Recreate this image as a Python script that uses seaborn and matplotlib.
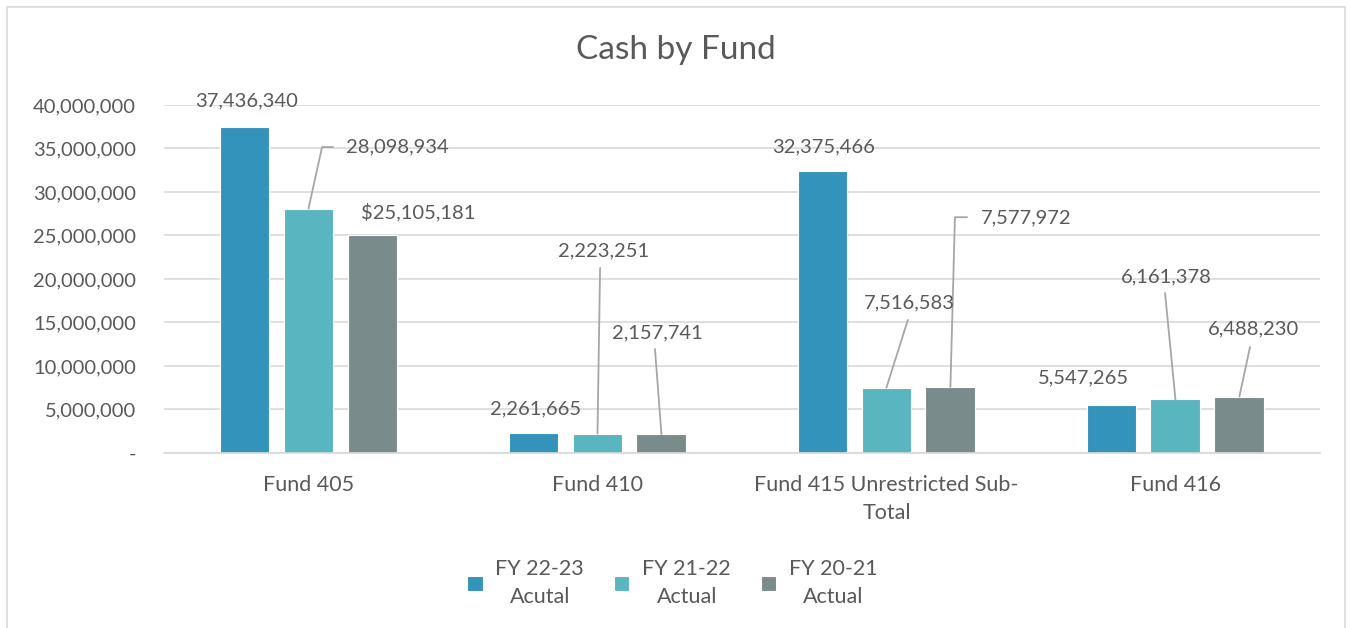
import pandas as pd
import seaborn as sns
import matplotlib.pyplot as plt
from matplotlib.patches import Rectangle
from matplotlib.ticker import FuncFormatter

funds = ["Fund 405", "Fund 410", "Fund 415 Unrestricted Sub-\nTotal", "Fund 416"]
series = ["FY 22-23\nAcutal", "FY 21-22\nActual", "FY 20-21\nActual"]
fy2223 = [37436340, 2261665, 32375466, 5547265]
fy2122 = [28098934, 2223251, 7516583, 6161378]
fy2021 = [25105181, 2157741, 7577972, 6488230]
colors = ["#3393BA", "#59B5BF", "#7A8B8C"]

rows = []
for name, vals in zip(series, [fy2223, fy2122, fy2021]):
    for f, v in zip(funds, vals):
        rows.append({"fund": f, "series": name, "value": v})
df = pd.DataFrame(rows)

# label layout: (text x, text y, ha, leader points or None), per series then fund
layout = [
    [(-0.216, 40.46e6, "center", None),
     (0.787, 5.06e6, "center", None),
     (1.784, 35.17e6, "center", None),
     (2.68, 8.6e6, "center", None)],
    [(0.13, 35.17e6, "left", [(0.047, 35.17e6), (0.085, 35.17e6)]),
     (1.022, 23.2e6, "center", [(1.009, 21.26e6)]),
     (2.078, 17.2e6, "center", [(2.074, 15.29e6)]),
     (2.97, 20.3e6, "center", [(2.964, 18.39e6)])],
    [(0.379, 27.7e6, "center", None),
     (1.206, 13.8e6, "center", [(1.199, 11.95e6)]),
     (2.327, 27.0e6, "left", [(2.237, 27.1e6), (2.279, 27.1e6)]),
     (3.27, 14.25e6, "center", [(3.258, 12.18e6)])],
]

sns.set_theme(style="white")
plt.rcParams["font.family"] = ["Lato", "DejaVu Sans"]
txt = "#595959"

fig = plt.figure(figsize=(13.51, 6.28), dpi=100)
ax = fig.add_axes([0.1214, 0.2787, 0.8556, 0.5541])
sns.barplot(data=df, x="fund", y="value", hue="series", palette=colors, saturation=1,
            width=0.664, gap=0.22, edgecolor="white", linewidth=0.8, ax=ax)

ax.set_ylim(0, 40e6)
ax.set_xlim(-0.5, 3.5)
ax.set_yticks(range(0, 40000001, 5000000))
ax.yaxis.set_major_formatter(FuncFormatter(lambda v, p: "-" if v == 0 else f"{v:,.0f}"))
ax.grid(axis="y", color="#D9D9D9", linewidth=1.2)
ax.set_axisbelow(True)
for s in ["top", "right", "left"]:
    ax.spines[s].set_visible(False)
ax.spines["bottom"].set_color("#D9D9D9")
ax.spines["bottom"].set_linewidth(1.2)
ax.tick_params(axis="y", length=0, labelsize=14.5, labelcolor=txt, pad=20)
ax.tick_params(axis="x", length=0, labelsize=15.5, labelcolor=txt, pad=16)
for t in ax.get_xticklabels():
    t.set_linespacing(1.5)
ax.set_xlabel("")
ax.set_ylabel("")

label_vals = [fy2223, fy2122, fy2021]
for si, cont in enumerate(ax.containers):
    for fi, bar in enumerate(cont.patches):
        tx, ty, ha, leader = layout[si][fi]
        text = f"{label_vals[si][fi]:,}"
        if si == 2 and fi == 0:
            text = "$" + text
        ax.text(tx, ty, text, ha=ha, va="center", fontsize=14.5, color=txt)
        if leader:
            bx = bar.get_x() + bar.get_width() / 2
            xs = [bx] + [p[0] for p in leader]
            ys = [bar.get_height()] + [p[1] for p in leader]
            ax.plot(xs, ys, color="#A6A6A6", linewidth=1.3, clip_on=False)

fig.text(0.5, 0.92, "Cash by Fund", ha="center", va="center", fontsize=24, color=txt)

leg = ax.legend(loc="upper center", bbox_to_anchor=(0.44, -0.25), ncol=3, frameon=False,
                fontsize=15.5, handlelength=0.7, handleheight=0.7, columnspacing=1.4,
                handletextpad=0.6)
for t in leg.get_texts():
    t.set_color(txt)
    t.set_multialignment("center")
    t.set_linespacing(1.5)

fig.patches.append(Rectangle((0.0055, -0.01), 0.99, 0.9995, transform=fig.transFigure,
                             fill=False, edgecolor="#D9D9D9", linewidth=1.2))

fig.savefig("out.png", dpi=100)
